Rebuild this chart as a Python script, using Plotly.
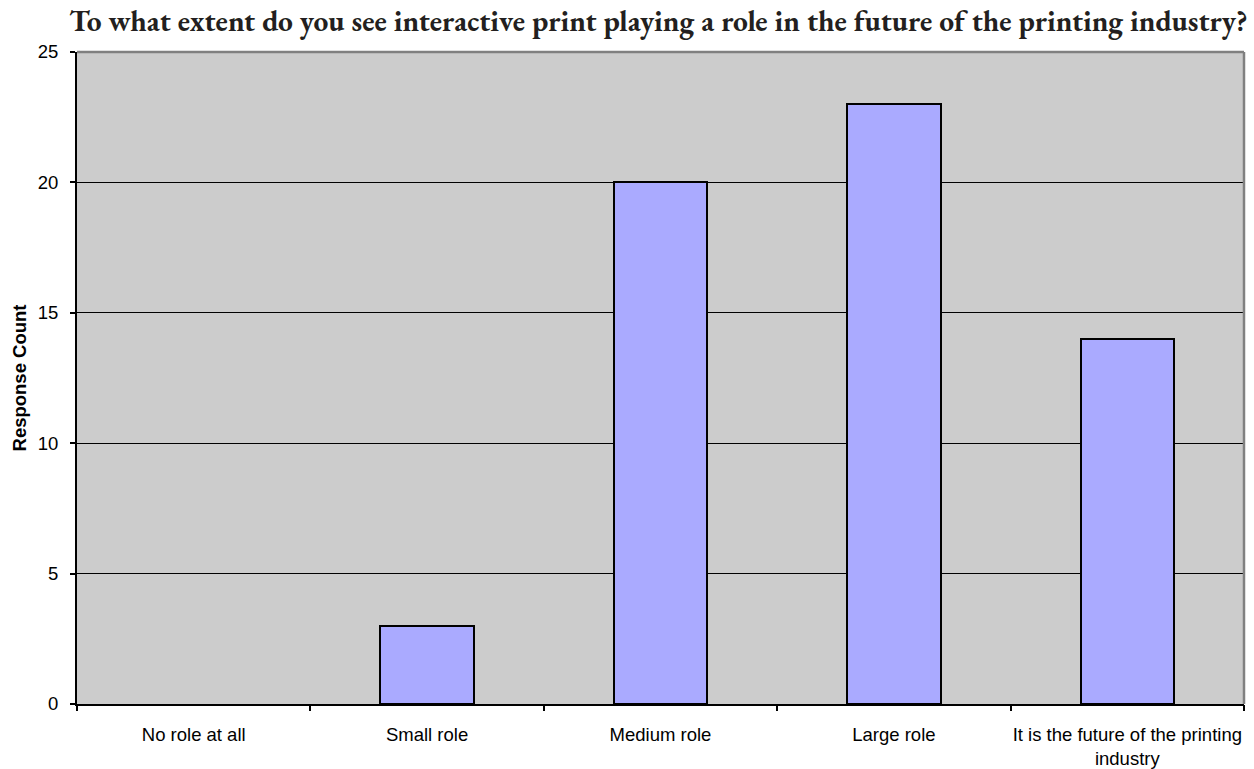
import plotly.graph_objects as go

categories = ["No role at all", "Small role", "Medium role", "Large role",
              "It is the future of the printing<br>industry"]
counts = [0, 3, 20, 23, 14]
y_ticks = [0, 5, 10, 15, 20, 25]

positions = list(range(len(categories)))
boundaries = [p - 0.5 for p in positions] + [positions[-1] + 0.5]
# Empty categories get no outline so no stray line sits on the axis
outline_widths = [0 if c == 0 else 2 for c in counts]

fig = go.Figure()
fig.add_trace(go.Bar(
    x=positions, y=counts, width=0.4,
    marker=dict(color="#AAAAFF", line=dict(color="black", width=outline_widths)),
    showlegend=False, hoverinfo="x+y",
))

# Secondary x axis used only for the category-boundary tick marks
fig.add_trace(go.Scatter(x=[boundaries[0]], y=[0], xaxis="x2", mode="markers",
                         marker=dict(opacity=0), showlegend=False, hoverinfo="skip"))

fig.update_layout(
    width=1254, height=769,
    margin=dict(l=77, r=10, t=52, b=65, autoexpand=False),
    paper_bgcolor="white", plot_bgcolor="#CCCCCC",
    font=dict(family="Liberation Sans, Arial, sans-serif", size=18.5, color="black"),
    title=dict(
        text="<b>To what extent do you see interactive print playing a role in the future of the printing industry?</b>",
        font=dict(family="EB Garamond, Liberation Serif, serif", size=29.5, color="#231F20"),
        x=0.525, xanchor="center", y=0.973, yanchor="middle",
    ),
    xaxis=dict(
        range=[boundaries[0], boundaries[-1]],
        tickvals=positions, ticktext=categories, automargin=False,
        ticks="", showgrid=False, zeroline=False,
        showline=True, linecolor="black", linewidth=2,
        tickfont=dict(size=18.5), ticklabelstandoff=13,
    ),
    xaxis2=dict(
        overlaying="x", matches="x", side="bottom", automargin=False,
        tickvals=boundaries, ticktext=[""] * len(boundaries),
        ticks="outside", ticklen=6, tickwidth=2, tickcolor="black",
        showgrid=False, zeroline=False, showline=False,
    ),
    yaxis=dict(
        range=[0, 25], tickvals=y_ticks, automargin=False,
        ticks="outside", ticklen=5, tickwidth=1.5, tickcolor="black",
        showgrid=True, gridcolor="black", gridwidth=1.2,
        zeroline=False, showline=True, linecolor="black", linewidth=2,
        tickfont=dict(size=18.5), ticklabelstandoff=8,
        title=dict(text="<b>Response Count</b>", font=dict(size=18.5), standoff=6),
    ),
    bargap=0,
)

# Gray frame on the top and right edges of the plot area
fig.add_shape(type="line", xref="paper", yref="paper", x0=0, x1=1, y0=1, y1=1,
              line=dict(color="#808080", width=2.5))
fig.add_shape(type="line", xref="paper", yref="paper", x0=1, x1=1, y0=0, y1=1,
              line=dict(color="#808080", width=2.5))

fig.write_html("out.html")
